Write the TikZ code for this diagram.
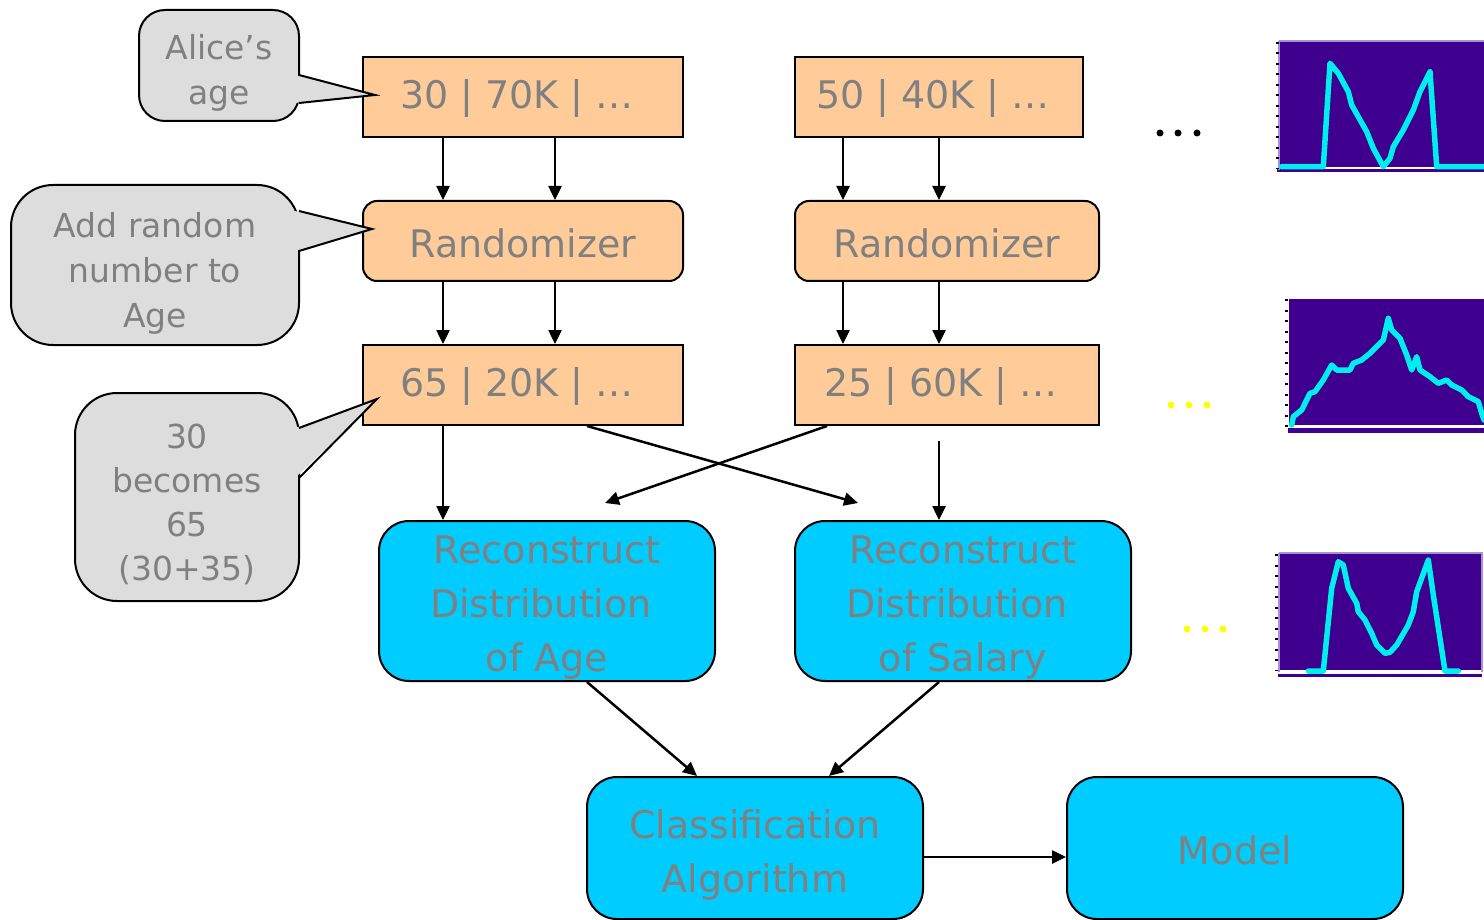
\documentclass[tikz,border=0pt]{standalone}
\usepackage{fontspec}
\setmainfont{DejaVu Sans}
\usetikzlibrary{arrows.meta}
\definecolor{peach}{HTML}{FFCC99}
\definecolor{cyanbox}{HTML}{00CCFF}
\definecolor{calloutgray}{HTML}{DDDDDD}
\definecolor{txtgray}{HTML}{808080}
\definecolor{chartpurple}{HTML}{3F008F}
\definecolor{curvecyan}{HTML}{00EEEE}
\definecolor{lavender}{HTML}{A890D8}
\definecolor{dotyellow}{HTML}{FFFF00}
\begin{document}
\begin{tikzpicture}[x=1pt,y=-1pt,
  databox/.style={draw=black,line width=2pt,fill=peach,minimum height=80pt,inner sep=0pt},
  randbox/.style={databox,rounded corners=14pt},
  datatext/.style={inner sep=0pt,text=txtgray,font=\fontsize{38}{46}\selectfont},
  bluebox/.style={draw=black,line width=2pt,fill=cyanbox,rounded corners=30pt,minimum width=336pt,inner sep=0pt},
  bluetext/.style={inner sep=0pt,text=txtgray,align=center,font=\fontsize{38}{54}\selectfont},
  callout/.style={draw=black,line width=2pt,fill=calloutgray,inner sep=0pt},
  callouttext/.style={inner sep=0pt,text=txtgray,align=center,font=\fontsize{33}{45}\selectfont},
  pointerfill/.style={fill=calloutgray},
  pointerline/.style={draw=black,line width=2pt,line join=miter},
  arr/.style={line width=2.5pt,-{Triangle[length=14pt,width=13pt]}},
  curve/.style={draw=curvecyan,line width=5.5pt,line join=round,line cap=round},
  axisticks/.style={draw=black,line width=3pt,dash pattern=on 2pt off 8.5pt},
  dotblack/.style={fill=black},
  dotyel/.style={fill=dotyellow}
]
\useasboundingbox (0,0) rectangle (1484,920);

% ---------- data boxes ----------
\node[databox,minimum width=320pt] (A1) at (523,97) {};
\node[datatext] (A1t) at ([xshift=-6pt,yshift=-1pt]A1.center) {30 | 70K | …};
\node[databox,minimum width=288pt] (B1) at (939,97) {};
\node[datatext] (B1t) at ([xshift=-6pt,yshift=-1pt]B1.center) {50 | 40K | …};
\node[randbox,minimum width=320pt] (RA) at (523,241) {};
\node[datatext] (RAt) at ([yshift=-2pt]RA.center) {Randomizer};
\node[randbox,minimum width=304pt] (RB) at (947,241) {};
\node[datatext] (RBt) at ([yshift=-2pt]RB.center) {Randomizer};
\node[databox,minimum width=320pt] (A3) at (523,385) {};
\node[datatext] (A3t) at ([xshift=-6pt,yshift=-1pt]A3.center) {65 | 20K | …};
\node[databox,minimum width=304pt] (B3) at (947,385) {};
\node[datatext] (B3t) at ([xshift=-6pt,yshift=-1pt]B3.center) {25 | 60K | …};

% ---------- blue boxes ----------
\node[bluebox,minimum height=160pt] (RecA) at (547,601) {};
\node[bluetext] (RecAt) at ([yshift=-7pt]RecA.center) {Reconstruct\\Distribution\hphantom{\ }\\of Age};
\node[bluebox,minimum height=160pt] (RecB) at (963,601) {};
\node[bluetext] (RecBt) at ([yshift=-7pt]RecB.center) {Reconstruct\\Distribution\hphantom{\ }\\of Salary};
\node[bluebox,minimum height=142pt] (Cls) at (755,848) {};
\node[bluetext] (Clst) at ([yshift=-7pt]Cls.center) {Classification\\Algorithm};
\node[bluebox,minimum height=142pt] (Model) at (1235,848) {};
\node[bluetext] (Modelt) at ([yshift=-2pt]Model.center) {Model};

% ---------- arrows ----------
\draw[arr] ([xshift=-80pt]A1.south) -- ([xshift=-80pt]RA.north);
\draw[arr] ([xshift=32pt]A1.south) -- ([xshift=32pt]RA.north);
\draw[arr] ([xshift=-96pt]B1.south) -- ([xshift=-104pt]RB.north);
\draw[arr] ([xshift=0pt]B1.south) -- ([xshift=-8pt]RB.north);
\draw[arr] ([xshift=-80pt]RA.south) -- ([xshift=-80pt]A3.north);
\draw[arr] ([xshift=32pt]RA.south) -- ([xshift=32pt]A3.north);
\draw[arr] ([xshift=-104pt]RB.south) -- ([xshift=-104pt]B3.north);
\draw[arr] ([xshift=-8pt]RB.south) -- ([xshift=-8pt]B3.north);

\coordinate (tipB) at (858,503);
\coordinate (tipA) at (605,503);
\coordinate (startB) at (939,441);
\draw[arr] ([xshift=-80pt]A3.south) -- ([xshift=-104pt]RecA.north);
\draw[arr] ([xshift=64pt]A3.south) -- (tipB);
\draw[arr] ([xshift=-120pt]B3.south) -- (tipA);
\draw[arr] (startB) -- ([xshift=-24pt]RecB.north);
\draw[arr] ([xshift=40pt]RecA.south) -- ([xshift=-58pt]Cls.north);
\draw[arr] ([xshift=-24pt]RecB.south) -- ([xshift=74pt]Cls.north);
\draw[arr] ([yshift=-9pt]Cls.east) -- ([yshift=-9pt]Model.west);

% ---------- callouts ----------
\node[callout,minimum width=160pt,minimum height=111pt,rounded corners=26pt] (C1) at (219,65.5) {};
\fill[pointerfill] (295,75) -- (375,95) -- (295,103) -- cycle;
\draw[pointerline] (299,75) -- (375,95) -- (299,103);
\node[callouttext] (C1t) at ([yshift=-7pt]C1.center) {Alice’s\\age};

\node[callout,minimum width=288pt,minimum height=160pt,rounded corners=42pt] (C2) at (155,265) {};
\fill[pointerfill] (295,211) -- (372,229) -- (295,251) -- cycle;
\draw[pointerline] (299,211) -- (372,229) -- (299,251);
\node[callouttext] (C2t) at ([yshift=-8pt]C2.center) {Add random\\number to\\Age};

\node[callout,minimum width=224pt,minimum height=208pt,rounded corners=42pt] (C3) at (187,497) {};
\fill[pointerfill] (295,428) -- (377,399) -- (295,478) -- cycle;
\draw[pointerline] (299,428) -- (377,399) -- (299,478);
\node[callouttext,font=\fontsize{33}{44}\selectfont] (C3t) at ([yshift=-7pt]C3.center) {30\\becomes\\65\\(30+35)};

% ---------- dots ----------
\fill[dotblack] (1160,133) circle (3.5) (1178,133) circle (3.5) (1197,133) circle (3.5);
\fill[dotyel] (1171,405) circle (3.5) (1189,405) circle (3.5) (1207,405) circle (3.5);
\fill[dotyel] (1187,629) circle (3.5) (1205,629) circle (3.5) (1223,629) circle (3.5);

% ---------- chart 1 ----------
\fill[chartpurple] (1277,169.5) rectangle (1484,172.5);
\fill[chartpurple] (1280,42) rectangle (1484,167);
\draw[lavender,line width=1.2pt] (1279,41) -- (1484,41);
\draw[lavender,line width=1.2pt] (1279,41) -- (1279,170);
\draw[axisticks] (1277,42) -- (1277,169);
\draw[curve] (1281.7,166.7) -- (1323.3,166.7) -- (1330,63.3) -- (1338.3,73.3) -- (1348.3,91.7) -- (1351.7,105) -- (1366.7,131.7) -- (1373.3,148.3) -- (1383.3,166.7) -- (1390,158.3) -- (1393.3,146.7) -- (1403.3,130) -- (1413.3,110) -- (1420,91.7) -- (1430,71.7) -- (1436.7,166.7) -- (1484,166.7);

% ---------- chart 2 ----------
\fill[chartpurple] (1288,428) rectangle (1484,433);
\fill[chartpurple] (1289,299) rectangle (1484,425);
\draw[axisticks] (1286,299) -- (1286,427);
\draw[curve] (1291.7,425) -- (1293.3,416.7) -- (1301.7,410) -- (1310,393.3) -- (1315,391.7) -- (1323.3,380) -- (1331.7,365) -- (1336.7,370) -- (1350,370) -- (1353.3,363.3) -- (1361.7,360) -- (1370,353.3) -- (1383.3,340) -- (1388.3,318.3) -- (1391.7,330) -- (1400,338.3) -- (1406.7,355) -- (1411.7,370) -- (1416.7,356.7) -- (1420,370) -- (1430,376.7) -- (1438.3,383.3) -- (1446.7,380) -- (1451.7,385) -- (1461.7,390) -- (1468.3,396.7) -- (1478.3,401.7) -- (1481.7,413.3) -- (1484,420);

% ---------- chart 3 ----------
\fill[chartpurple] (1278,673.5) rectangle (1482,677);
\fill[chartpurple] (1280,554) rectangle (1481,670);
\draw[lavender,line width=1.2pt] (1279,553) -- (1482,553) -- (1482,672);
\draw[lavender,line width=1.2pt] (1279,553) -- (1279,672);
\draw[axisticks] (1276,554) -- (1276,671);
\draw[curve] (1308.3,671) -- (1323.3,671) -- (1331.7,588.3) -- (1338.3,561.7) -- (1343.3,565) -- (1348.3,588.3) -- (1356.7,603.3) -- (1358.3,611.7) -- (1365,620) -- (1371.7,633.3) -- (1376.7,645) -- (1385,653.3) -- (1390,652.3) -- (1396.7,645) -- (1408.3,625) -- (1413.3,611.7) -- (1416.7,591.7) -- (1428.3,560) -- (1433.3,595) -- (1445,671) -- (1458.3,671);
\end{tikzpicture}
\end{document}
